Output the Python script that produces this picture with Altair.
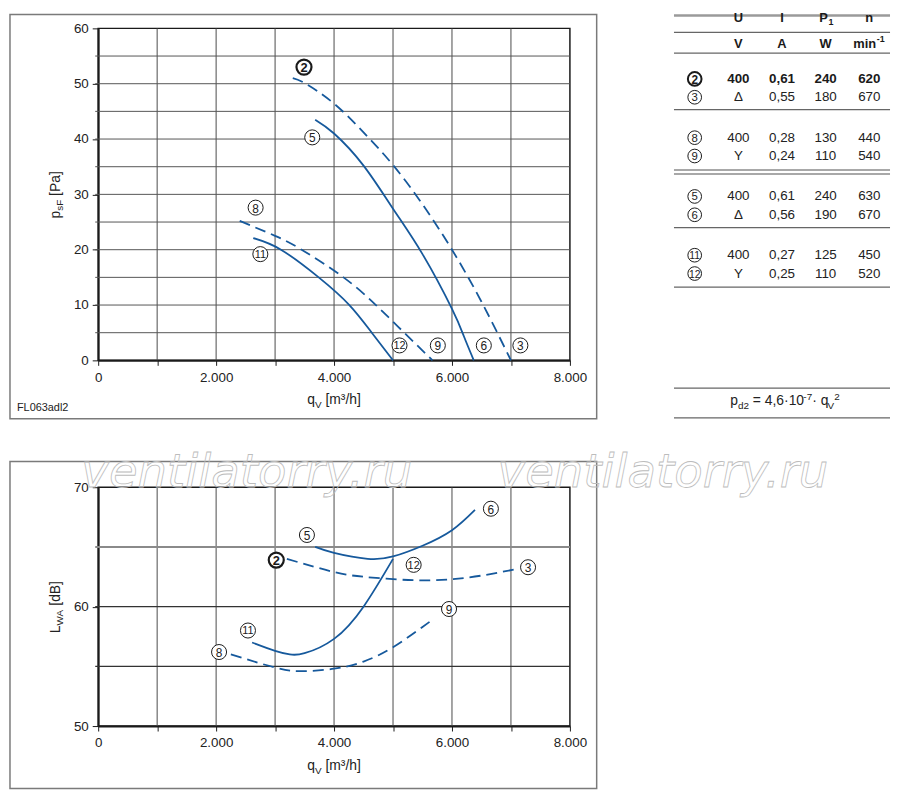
import altair as alt
import pandas as pd

FONT = "Liberation Sans"
BLUE = "#16599c"
INK = "#1a1a1a"
TXT = "#222222"

# ---------------- data: top chart, static pressure p_sF [Pa] ----------------
p23_q = [3300, 3520, 4000, 4500, 5000, 5500, 6000, 6500, 7000]
p23_v = [51.0, 50.0, 46.4, 41.2, 35.3, 28.2, 20.0, 10.6, 0.0]
p56_q = [3680, 4000, 4500, 5000, 5500, 6000, 6200, 6370]
p56_v = [43.5, 41.0, 35.2, 27.4, 19.2, 9.3, 4.4, 0.0]
p89_q = [2400, 3000, 3450, 4160, 4710, 5190, 5670]
p89_v = [25.2, 22.5, 20.0, 15.0, 10.0, 5.0, 0.0]
p1112_q = [2630, 3100, 3740, 4260, 4640, 5000]
p1112_v = [22.1, 20.0, 15.0, 10.0, 5.0, 0.0]

top_lab = ["2", "5", "8", "11", "12", "9", "6", "3"]
top_lab_q = [3490, 3630, 2670, 2750, 5110, 5760, 6540, 7160]
top_lab_v = [53.0, 40.3, 27.6, 19.2, 2.7, 2.7, 2.7, 2.7]

# ---------------- data: bottom chart, sound power L_WA [dB] ----------------
s23_q = [3200, 4000, 4500, 5000, 5500, 6000, 6500, 7050]
s23_v = [64.0, 62.9, 62.5, 62.3, 62.2, 62.3, 62.6, 63.1]
s56_q = [3680, 4000, 4570, 5000, 5500, 6000, 6390]
s56_v = [65.0, 64.5, 64.0, 64.2, 65.1, 66.4, 68.1]
s89_q = [2250, 3000, 3450, 4000, 4500, 5000, 5500, 5700]
s89_v = [56.0, 54.9, 54.6, 54.8, 55.4, 56.6, 58.3, 59.0]
s1112_q = [2610, 3000, 3250, 3500, 4000, 4500, 5000]
s1112_v = [57.0, 56.3, 56.0, 56.1, 57.3, 60.0, 64.0]

bot_lab = ["6", "5", "2", "12", "3", "9", "11", "8"]
bot_lab_q = [6660, 3540, 3020, 5350, 7290, 5950, 2540, 2050]
bot_lab_v = [68.2, 66.0, 63.9, 63.5, 63.3, 59.8, 58.0, 56.2]

x_ticks = [0, 1000, 2000, 3000, 4000, 5000, 6000, 7000, 8000]
x_grid = [1000, 2000, 3000, 4000, 5000, 6000, 7000]
top_y_ticks = [0, 10, 20, 30, 40, 50, 60]
top_y_grid = [5, 10, 15, 20, 25, 30, 35, 40, 45, 50, 55]
bot_y_ticks = [50, 60, 70]
bot_y_grid = [55, 60, 65]

# ---------------- data: table ----------------
tbl_lab = ["2", "3", "8", "9", "5", "6", "11", "12"]
tbl_U = ["400", "Δ", "400", "Y", "400", "Δ", "400", "Y"]
tbl_I = ["0,61", "0,55", "0,28", "0,24", "0,61", "0,56", "0,27", "0,25"]
tbl_P = ["240", "180", "130", "110", "240", "190", "125", "110"]
tbl_n = ["620", "670", "440", "540", "630", "670", "450", "520"]

# ---------------- helpers ----------------
ONE = pd.DataFrame({"k": [0]})
AW = {" ": 278, "[": 278, "]": 278, "/": 278, ".": 278, ",": 278, "·": 278,
      "=": 584, "-": 333, "³": 333, "²": 333, "m": 833, "s": 500, "i": 222,
      "A": 667, "B": 667, "F": 611, "L": 556, "P": 667, "V": 667, "W": 944}


def tw(s, size):
    return sum(AW.get(c, 556) for c in s) * size / 1000.0


def rich(segs, cx, cy, angle=0):
    """Text with sub/superscripts, laid out piece by piece (centred on cx)."""
    total = sum(tw(t, s) for t, s, _ in segs)
    pos = -total / 2.0
    out = []
    for t, s, sh in segs:
        lead = len(t) - len(t.lstrip(" "))
        p = pos + tw(" " * lead, s)
        if angle == 0:
            x, y = cx + p, cy + sh
        else:
            x, y = cx + sh, cy - p
        out.append(
            alt.Chart(ONE).mark_text(text=t.strip(), fontSize=s, font=FONT, align="left",
                                     baseline="alphabetic", angle=angle, color=TXT)
            .encode(x=alt.value(x), y=alt.value(y)))
        pos += tw(t, s)
    return out


def curves_df(items):
    rows = []
    for name, dash, qs, vs in items:
        for q, v in zip(qs, vs):
            rows.append({"curve": name, "dash": dash, "q": q, "v": v})
    return pd.DataFrame(rows)


def labels_df(labs, qs, vs):
    return pd.DataFrame({"lab": labs, "q": qs, "v": vs,
                         "bold": [l == "2" for l in labs],
                         "fs": [11 if len(l) > 1 else 12 for l in labs]})


W = 476
x_label_expr = ("datum.value % 2000 == 0 ? "
                "replace(format(datum.value, ','), ',', '.') : ''")
xscale = alt.Scale(domain=[0, 8000], nice=False, zero=False)
xaxis = alt.Axis(values=x_ticks, labelExpr=x_label_expr, title=None, grid=False,
                 tickSize=5, tickColor=INK, domainColor=INK, domainWidth=2,
                 labelPadding=5, labelFontSize=13.5, labelFont=FONT,
                 labelColor=TXT, labelOverlap=False, labelFlush=False)


def panel(height, ydom, yticks, ygrid, ygrid_style, curves, labs, frame,
          ytitle, ytitle_cy, xtitle_y, extra):
    yscale = alt.Scale(domain=ydom, nice=False, zero=False)
    yaxis = alt.Axis(values=yticks, title=None, grid=False, tickSize=6,
                     tickColor=INK, domainColor=INK, domainWidth=2,
                     labelPadding=4, labelFontSize=13.5, labelFont=FONT,
                     labelColor=TXT)
    X = alt.X("q:Q", scale=xscale, axis=xaxis)
    Y = alt.Y("v:Q", scale=yscale, axis=yaxis)

    fx1, fy1, fx2, fy2 = frame
    layers = [
        alt.Chart(ONE).mark_rect(fillOpacity=0, stroke="#7a7a7a", strokeWidth=1.5)
        .encode(x=alt.value(fx1), x2=alt.value(fx2), y=alt.value(fy1), y2=alt.value(fy2)),
        alt.Chart(pd.DataFrame({"q": x_grid})).mark_rule(color="#4a4a4a", strokeWidth=1)
        .encode(x=X),
    ]
    gdf = pd.DataFrame({"v": ygrid, "col": [ygrid_style[v][0] for v in ygrid],
                        "w": [ygrid_style[v][1] for v in ygrid]})
    layers.append(
        alt.Chart(gdf).mark_rule()
        .encode(y=Y, x=alt.value(-3), x2=alt.value(W),
                color=alt.Color("col:N", scale=None),
                strokeWidth=alt.StrokeWidth("w:Q", scale=None)))
    cdf = curves
    layers.append(
        alt.Chart(cdf[~cdf.dash]).mark_line(color=BLUE, strokeWidth=1.8, interpolate="natural")
        .encode(x=X, y=Y, detail="curve:N"))
    layers.append(
        alt.Chart(cdf[cdf.dash]).mark_line(color=BLUE, strokeWidth=1.8, strokeDash=[11, 6],
                                           interpolate="natural")
        .encode(x=X, y=Y, detail="curve:N"))
    ldf = labs
    layers.append(
        alt.Chart(ldf[~ldf.bold]).mark_point(shape="circle", filled=True, fill="white",
                                             stroke=INK, strokeWidth=1, size=230, opacity=1)
        .encode(x=X, y=Y))
    layers.append(
        alt.Chart(ldf[ldf.bold]).mark_point(shape="circle", filled=True, fill="white",
                                            stroke=INK, strokeWidth=2.2, size=230, opacity=1)
        .encode(x=X, y=Y))
    layers.append(
        alt.Chart(ldf[~ldf.bold]).mark_text(font=FONT, color=TXT, baseline="middle", dy=1)
        .encode(x=X, y=Y, text="lab:N", size=alt.Size("fs:Q", scale=None)))
    layers.append(
        alt.Chart(ldf[ldf.bold]).mark_text(font=FONT, color=INK, baseline="middle", dy=1,
                                           fontWeight="bold", fontSize=13)
        .encode(x=X, y=Y, text="lab:N"))
    layers += rich(ytitle, -39, ytitle_cy, angle=270)
    layers += rich([("q", 14, 0), ("V", 10, 4), (" [m³/h]", 14, 0)], 238, xtitle_y)
    layers += extra
    return alt.layer(*layers).properties(width=W, height=height)


# ---------------- top chart ----------------
top_curves = curves_df([("2-3", True, p23_q, p23_v), ("5-6", False, p56_q, p56_v),
                        ("8-9", True, p89_q, p89_v), ("11-12", False, p1112_q, p1112_v)])
top_style = {v: ("#555555", 1) for v in top_y_grid}
top_extra = [alt.Chart(ONE).mark_text(text="FL063adl2", fontSize=11, font=FONT, align="left",
                                      baseline="middle", color=TXT)
             .encode(x=alt.value(-82), y=alt.value(383))]
top = panel(335, [0, 60], top_y_ticks, top_y_grid, top_style, top_curves,
            labels_df(top_lab, top_lab_q, top_lab_v), (-89, -14, 503, 394),
            [("p", 14, 0), ("sF", 10, 4), (" [Pa]", 14, 0)], 168, 379, top_extra)

# ---------------- bottom chart ----------------
bot_curves = curves_df([("2-3", True, s23_q, s23_v), ("5-6", False, s56_q, s56_v),
                        ("8-9", True, s89_q, s89_v), ("11-12", False, s1112_q, s1112_v)])
bot_style = {55: ("#333333", 1.2), 60: ("#333333", 1.2), 65: ("#8a8a8a", 2)}
wm = []
for wx in (-17, 403):
    wm.append(alt.Chart(ONE).mark_text(text="ventilatorry.ru", font="DejaVu Sans", fontSize=47,
                                       fontStyle="italic", align="left", baseline="alphabetic",
                                       fill="white", fillOpacity=0, stroke="#bcbcbc",
                                       strokeWidth=0.8)
              .encode(x=alt.value(wx), y=alt.value(0)))
bottom = panel(241, [50, 70], bot_y_ticks, bot_y_grid, bot_style, bot_curves,
               labels_df(bot_lab, bot_lab_q, bot_lab_v), (-89, -26, 503, 304),
               [("L", 14, 0), ("WA", 10, 4), (" [dB]", 14, 0)], 121, 285, wm)

# ---------------- table ----------------
TW, TH = 218, 393
cols = ["lab", "U", "I", "P1", "n"]
TX = alt.X("col:N", scale=alt.Scale(type="point", domain=cols, padding=0.475), axis=None)
TY = alt.Y("ypos:Q", scale=alt.Scale(domain=[0, TH], reverse=True, nice=False, zero=False),
           axis=None)

cells, circ = [], []
for i, vals in enumerate(zip(tbl_lab, tbl_U, tbl_I, tbl_P, tbl_n)):
    g, r = divmod(i, 2)
    y = 51 + 59.3 * g + 18.5 * r
    circ.append({"col": "lab", "ypos": y, "lab": vals[0], "bold": i == 0,
                 "fs": 10.5 if len(vals[0]) > 1 else 11.5})
    for c, v in zip(cols[1:], vals[1:]):
        cells.append({"col": c, "ypos": y, "txt": v, "bold": i == 0})
cells = pd.DataFrame(cells)
circ = pd.DataFrame(circ)

lines = pd.DataFrame({"ypos": [-13, 4, 25, 82, 143, 147, 201, 261, 363, 393],
                      "col": ["#9a9a9a", "#666666", "#666666", "#666666", "#a8a8a8",
                              "#a8a8a8", "#666666", "#666666", "#666666", "#666666"],
                      "w": [2.5, 1.2, 1.2, 1.2, 2, 2, 1.2, 1.2, 1.2, 1.2]})
hdr = pd.DataFrame({"col": ["U", "I", "n", "U", "I", "P1"],
                    "ypos": [-10, -10, -10, 16, 16, 16],
                    "txt": ["U", "I", "n", "V", "A", "W"]})
hdr_p = pd.DataFrame({"col": ["P1"], "ypos": [-10]})
hdr_min = pd.DataFrame({"col": ["n"], "ypos": [16]})

tlayers = [
    alt.Chart(lines).mark_rule().encode(y=TY, x=alt.value(0), x2=alt.value(TW),
                                        color=alt.Color("col:N", scale=None),
                                        strokeWidth=alt.StrokeWidth("w:Q", scale=None)),
    alt.Chart(hdr).mark_text(font=FONT, fontSize=13, fontWeight="bold", color=INK,
                             baseline="middle").encode(x=TX, y=TY, text="txt:N"),
    alt.Chart(hdr_p).mark_text(text="P", font=FONT, fontSize=13, fontWeight="bold", color=INK,
                               baseline="middle", dx=-2).encode(x=TX, y=TY),
    alt.Chart(hdr_p).mark_text(text="1", font=FONT, fontSize=9, fontWeight="bold", color=INK,
                               baseline="middle", align="left", dx=3, dy=4).encode(x=TX, y=TY),
    alt.Chart(hdr_min).mark_text(text="min", font=FONT, fontSize=13, fontWeight="bold",
                                 color=INK, baseline="middle", align="right", dx=7)
    .encode(x=TX, y=TY),
    alt.Chart(hdr_min).mark_text(text="-1", font=FONT, fontSize=9, fontWeight="bold",
                                 color=INK, baseline="middle", align="left", dx=7.5, dy=-5)
    .encode(x=TX, y=TY),
    alt.Chart(circ[~circ.bold]).mark_point(shape="circle", filled=True, fill="white",
                                           stroke=INK, strokeWidth=1, size=190, opacity=1)
    .encode(x=TX, y=TY),
    alt.Chart(circ[circ.bold]).mark_point(shape="circle", filled=True, fill="white",
                                          stroke=INK, strokeWidth=2, size=190, opacity=1)
    .encode(x=TX, y=TY),
    alt.Chart(circ[~circ.bold]).mark_text(font=FONT, color=TXT, baseline="middle", dy=1)
    .encode(x=TX, y=TY, text="lab:N", size=alt.Size("fs:Q", scale=None)),
    alt.Chart(circ[circ.bold]).mark_text(font=FONT, color=INK, baseline="middle", dy=1,
                                         fontWeight="bold", fontSize=12)
    .encode(x=TX, y=TY, text="lab:N"),
    alt.Chart(cells[~cells.bold]).mark_text(font=FONT, fontSize=13.5, color=TXT,
                                            baseline="middle")
    .encode(x=TX, y=TY, text="txt:N"),
    alt.Chart(cells[cells.bold]).mark_text(font=FONT, fontSize=13.5, color=INK,
                                           baseline="middle", fontWeight="bold")
    .encode(x=TX, y=TY, text="txt:N"),
]
tlayers += rich([("p", 14, 0), ("d2", 10, 4), (" = 4,6·10", 14, 0), ("-7", 10, -5),
                 ("· q", 14, 0), ("V", 10, 4), ("2", 10, -5)], 112, 380)
table = alt.layer(*tlayers).properties(width=TW, height=TH,
                                       view=alt.ViewBackground(stroke="transparent"))

row1 = alt.hconcat(top, table, spacing=74)
chart = alt.vconcat(row1, bottom, spacing=28).properties(
    padding=0, background="white"
).configure_view(stroke=INK, strokeWidth=1.5)

chart.save("out.html", embed_options={"renderer": "svg", "actions": False})
